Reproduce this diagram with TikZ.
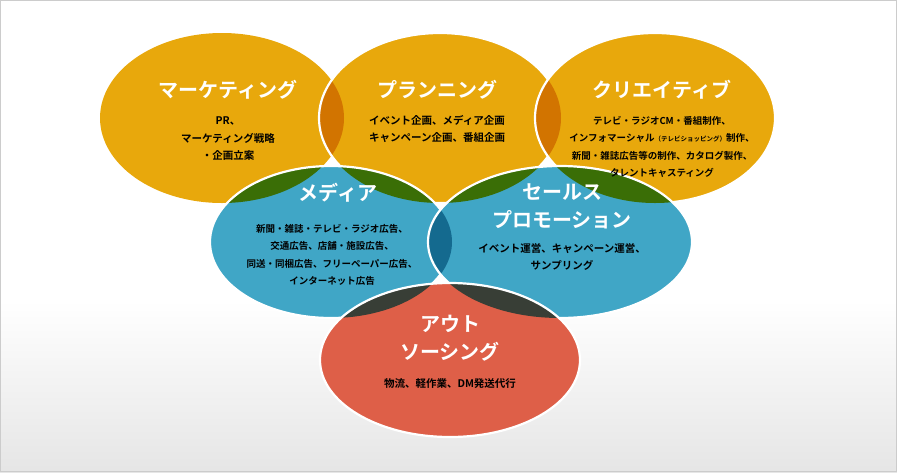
\documentclass[tikz,border=0pt]{standalone}
\usepackage{fontspec}
\newfontfamily\jp[BoldFont={Noto Sans CJK JP Bold}]{Noto Sans CJK JP}
\definecolor{yel}{HTML}{E8A80C}
\definecolor{org}{HTML}{D27400}
\definecolor{grn}{HTML}{3A6E06}
\definecolor{blu}{HTML}{40A6C6}
\definecolor{dblu}{HTML}{146A8F}
\definecolor{red}{HTML}{DE5F48}
\definecolor{dred}{HTML}{383E36}
\tikzset{
 ttl/.style={text=white,font=\jp\bfseries\fontsize{20}{28}\selectfont,align=center,inner sep=0pt},
 bdy/.style={text=black,font=\jp\bfseries\fontsize{10.5}{17.5}\selectfont,align=center,inner sep=0pt},
 edge/.style={draw=white,line width=2.2pt}
}
\begin{document}
\begin{tikzpicture}[x=1pt,y=-1pt]
\useasboundingbox (0,0) rectangle (897,472);
\shade[top color=white,bottom color=black!10] (0,300) rectangle (897,472);
\draw[black!20,line width=1pt] (0.5,0.5) rectangle (896.5,471.5);
% marketing
\fill[yel] (222,118) ellipse [x radius=122, y radius=85];
% planning
\fill[yel] (440,118) ellipse [x radius=121, y radius=85];
\begin{scope}\clip (440,118) ellipse [x radius=121, y radius=85];
\fill[org] (222,118) ellipse [x radius=122, y radius=85];\end{scope}
\draw[edge] (440,118) ellipse [x radius=121, y radius=85];
% creative
\fill[yel] (655,118) ellipse [x radius=120, y radius=85];
\begin{scope}\clip (655,118) ellipse [x radius=120, y radius=85];
\fill[org] (440,118) ellipse [x radius=121, y radius=85];\end{scope}
\draw[edge] (655,118) ellipse [x radius=120, y radius=85];
% media
\fill[blu] (331,242) ellipse [x radius=121, y radius=76];
\begin{scope}\clip (331,242) ellipse [x radius=121, y radius=76];
\fill[grn] (222,118) ellipse [x radius=122, y radius=85];
\fill[grn] (440,118) ellipse [x radius=121, y radius=85];\end{scope}
\draw[edge] (331,242) ellipse [x radius=121, y radius=76];
% sales
\fill[blu] (560,242) ellipse [x radius=132, y radius=76];
\begin{scope}\clip (560,242) ellipse [x radius=132, y radius=76];
\fill[grn] (440,118) ellipse [x radius=121, y radius=85];
\fill[grn] (655,118) ellipse [x radius=120, y radius=85];
\fill[dblu] (331,242) ellipse [x radius=121, y radius=76];\end{scope}
\draw[edge] (560,242) ellipse [x radius=132, y radius=76];
% outsourcing
\fill[red] (450,360) ellipse [x radius=130, y radius=77];
\begin{scope}\clip (450,360) ellipse [x radius=130, y radius=77];
\fill[dred] (331,242) ellipse [x radius=121, y radius=76];
\fill[dred] (560,242) ellipse [x radius=132, y radius=76];\end{scope}
\draw[edge] (450,360) ellipse [x radius=130, y radius=77];
% texts
\node[ttl] (t1) at (228,90) {マーケティング};
\node[bdy] (b1) at (228,139) {PR、\\マーケティング戦略\\・企画立案};
\node[ttl] (t2) at (437,90) {プランニング};
\node[bdy] (b2) at (437,129) {イベント企画、メディア企画\\キャンペーン企画、番組企画};
\node[ttl] (t3) at (662,90) {クリエイティブ};
\node[bdy,font=\jp\bfseries\fontsize{9.5}{17.5}\selectfont] (b3) at (662,147) {テレビ・ラジオCM・番組制作、\\インフォマーシャル{\fontsize{6.5}{8}\selectfont（テレビショッピング）}制作、\\新聞・雑誌広告等の制作、カタログ製作、\\タレントキャスティング};
\node[ttl] (t4) at (338,193) {メディア};
\node[bdy,font=\jp\bfseries\fontsize{9.5}{17.5}\selectfont] (b4) at (332,255) {新聞・雑誌・テレビ・ラジオ広告、\\交通広告、店舗・施設広告、\\同送・同梱広告、フリーペーパー広告、\\インターネット広告};
\node[ttl] (t5) at (562,206) {セールス\\プロモーション};
\node[bdy] (b5) at (562,257) {イベント運営、キャンペーン運営、\\サンプリング};
\node[ttl] (t6) at (450,338) {アウト\\ソーシング};
\node[bdy] (b6) at (450,384) {物流、軽作業、DM発送代行};
\end{tikzpicture}
\end{document}
